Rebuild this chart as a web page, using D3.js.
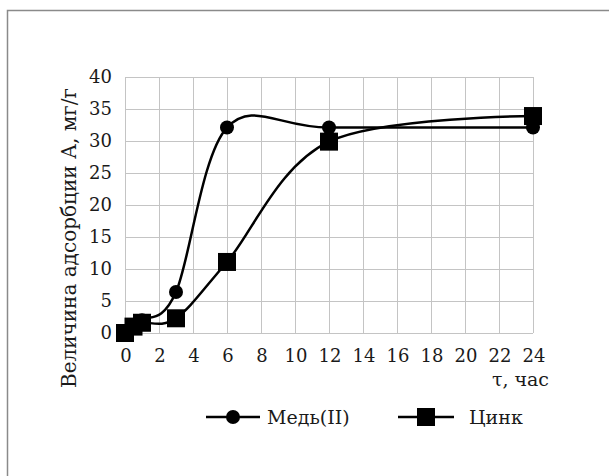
<!DOCTYPE html>
<html>
<head>
<meta charset="utf-8">
<script src="https://cdn.jsdelivr.net/npm/d3@7"></script>
<style>
  html, body { margin: 0; padding: 0; background: #fff; }
  svg { display: block; }
  text { font-family: "DejaVu Serif", "Liberation Serif", serif; fill: #1a1a1a; }
</style>
</head>
<body>
<svg id="chart" width="609" height="476"></svg>
<script>
// Adsorption time, hours
const hours = [0, 0.5, 1, 3, 6, 12, 24];
// Adsorbed amount A, mg/g
const copperValues = [0, 1.2, 2.0, 6.4, 32.1, 32.1, 32.1];
const zincValues   = [0, 1.0, 1.6, 2.3, 11.1, 29.9, 33.9];
const seriesNames = ["Медь(II)", "Цинк"];
const xTicks = [0, 2, 4, 6, 8, 10, 12, 14, 16, 18, 20, 22, 24];
const yTicks = [0, 5, 10, 15, 20, 25, 30, 35, 40];
const yTitle = "Величина адсорбции А, мг/г";
const xTitle = "τ, час";

const svg = d3.select("#chart");
const x = d3.scaleLinear().domain([0, 24]).range([125, 533]);
const y = d3.scaleLinear().domain([0, 40]).range([333, 77]);

// outer frame
svg.append("path")
  .attr("d", "M7.5,480 L7.5,10.5 L612,10.5")
  .attr("fill", "none").attr("stroke", "#8a8a8a").attr("stroke-width", 1.5);

// grid
const grid = svg.append("g").attr("stroke", "#c4c4c4").attr("stroke-width", 1);
grid.selectAll("line.v").data(xTicks).join("line")
  .attr("x1", d => x(d) + 0.5).attr("x2", d => x(d) + 0.5)
  .attr("y1", y(40)).attr("y2", y(0));
grid.selectAll("line.h").data(yTicks).join("line")
  .attr("x1", x(0)).attr("x2", x(24))
  .attr("y1", d => y(d) + 0.5).attr("y2", d => y(d) + 0.5);

// tick labels
const tickSize = 18;
const labelSize = 19;
svg.append("g").selectAll("text").data(yTicks).join("text")
  .attr("x", 112).attr("y", d => y(d)).attr("dy", "0.36em")
  .attr("text-anchor", "end").attr("font-size", tickSize)
  .text(d => d);
svg.append("g").selectAll("text").data(xTicks).join("text")
  .attr("x", d => x(d) + 1).attr("y", 362)
  .attr("text-anchor", "middle").attr("font-size", tickSize)
  .text(d => d);

// axis titles
svg.append("text")
  .attr("transform", "translate(76,238) rotate(-90)")
  .attr("text-anchor", "middle").attr("font-size", 20)
  .text(yTitle);
svg.append("text")
  .attr("x", 549).attr("y", 386).attr("text-anchor", "end")
  .attr("font-size", labelSize).text(xTitle);

// series
const line = d3.line()
  .x(d => x(d[0])).y(d => y(d[1]))
  .curve(d3.curveCardinal.tension(0));
const copper = hours.map((h, i) => [h, copperValues[i]]);
const zinc = hours.map((h, i) => [h, zincValues[i]]);

svg.append("path").datum(copper).attr("d", line)
  .attr("fill", "none").attr("stroke", "#000").attr("stroke-width", 2.5);
svg.append("g").selectAll("circle").data(copper).join("circle")
  .attr("cx", d => x(d[0])).attr("cy", d => y(d[1])).attr("r", 7).attr("fill", "#000");

const sq = 18;
svg.append("path").datum(zinc).attr("d", line)
  .attr("fill", "none").attr("stroke", "#000").attr("stroke-width", 2.5);
svg.append("g").selectAll("rect").data(zinc).join("rect")
  .attr("x", d => x(d[0]) - sq / 2).attr("y", d => y(d[1]) - sq / 2)
  .attr("width", sq).attr("height", sq).attr("fill", "#000");

// legend
const legY = 417;
const leg = svg.append("g");
leg.append("line").attr("x1", 206).attr("x2", 260).attr("y1", legY).attr("y2", legY)
  .attr("stroke", "#000").attr("stroke-width", 2.5);
leg.append("circle").attr("cx", 233).attr("cy", legY).attr("r", 7).attr("fill", "#000");
leg.append("text").attr("x", 267).attr("y", legY).attr("dy", "0.36em")
  .attr("font-size", labelSize).text(seriesNames[0]);
leg.append("line").attr("x1", 398).attr("x2", 454).attr("y1", legY).attr("y2", legY)
  .attr("stroke", "#000").attr("stroke-width", 2.5);
leg.append("rect").attr("x", 426 - sq / 2).attr("y", legY - sq / 2)
  .attr("width", sq).attr("height", sq).attr("fill", "#000");
leg.append("text").attr("x", 469).attr("y", legY).attr("dy", "0.36em")
  .attr("font-size", labelSize).text(seriesNames[1]);
</script>
</body>
</html>
